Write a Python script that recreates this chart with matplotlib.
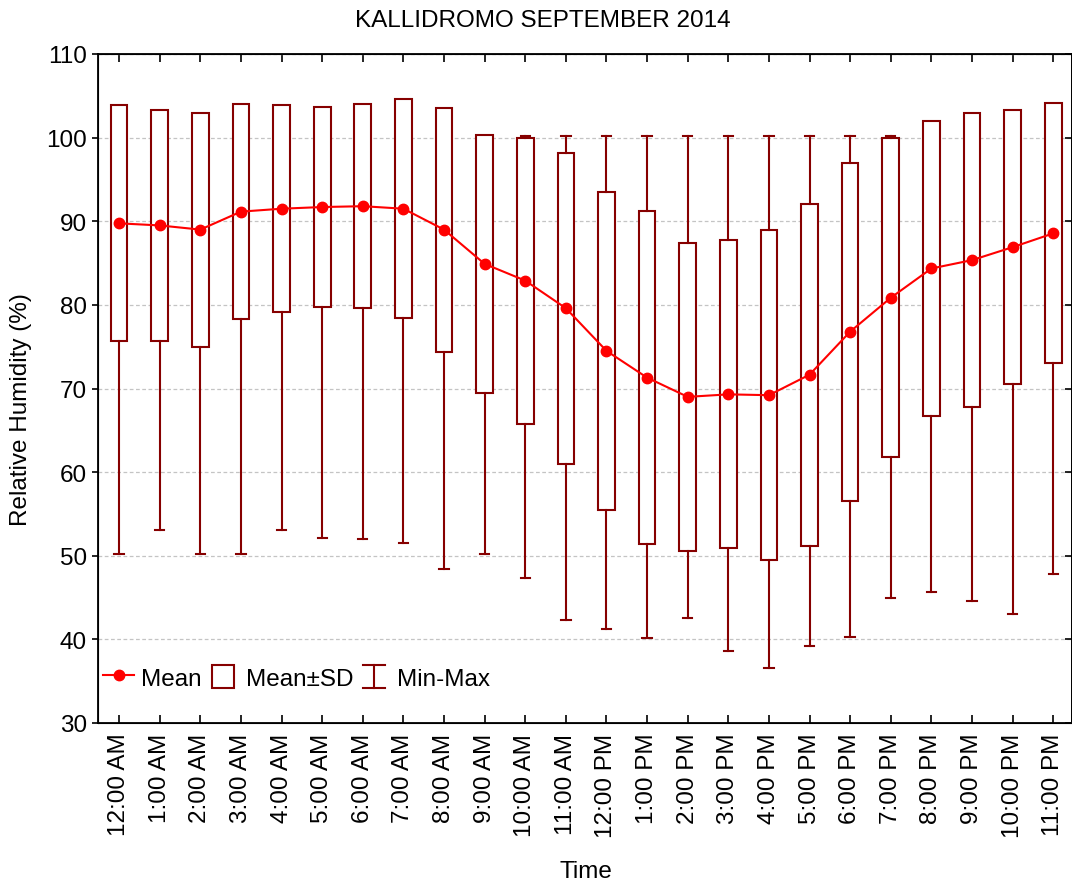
import matplotlib
matplotlib.use("Agg")
import matplotlib.pyplot as plt
from matplotlib.patches import Rectangle
from matplotlib.lines import Line2D
from matplotlib.legend_handler import HandlerBase, HandlerPatch

# ------------------------------
# Data
# ------------------------------
hours = ["12:00 AM", "1:00 AM", "2:00 AM", "3:00 AM", "4:00 AM", "5:00 AM",
         "6:00 AM", "7:00 AM", "8:00 AM", "9:00 AM", "10:00 AM", "11:00 AM",
         "12:00 PM", "1:00 PM", "2:00 PM", "3:00 PM", "4:00 PM", "5:00 PM",
         "6:00 PM", "7:00 PM", "8:00 PM", "9:00 PM", "10:00 PM", "11:00 PM"]

mean_rh = [89.75, 89.5, 89.0, 91.15, 91.5, 91.7, 91.8, 91.5, 89.0, 84.9, 82.9, 79.6,
           74.5, 71.3, 69.0, 69.3, 69.2, 71.65, 76.8, 80.85, 84.35, 85.35, 86.9, 88.55]

sd_rh = [14.1, 13.8, 14.0, 12.85, 12.4, 12.0, 12.2, 13.1, 14.6, 15.4, 17.1, 18.6,
         19.0, 19.9, 18.4, 18.4, 19.7, 20.45, 20.2, 19.05, 17.65, 17.55, 16.4, 15.55]

min_rh = [50.2, 53.1, 50.2, 50.2, 53.1, 52.1, 52.0, 51.5, 48.4, 50.2, 47.35, 42.3,
          41.25, 40.2, 42.6, 38.65, 36.6, 39.2, 40.3, 45.0, 45.7, 44.6, 43.0, 47.8]

max_rh = [100.2, 100.2, 100.2, 100.2, 100.2, 100.2, 100.2, 100.2, 100.2, 100.2, 100.2, 100.2,
          100.2, 100.2, 100.2, 100.2, 100.2, 100.2, 100.2, 100.2, 100.2, 100.2, 100.2, 100.2]

yticks = [30, 40, 50, 60, 70, 80, 90, 100, 110]

# ------------------------------
# Style
# ------------------------------
plt.rcParams['font.family'] = ['Liberation Sans', 'DejaVu Sans']
FS = 17.5
box_color = "#860000"
mean_color = "#ff0000"
box_w = 0.41
cap_w = 0.23

fig = plt.figure(figsize=(10.72, 8.87), dpi=100)
ax = fig.add_axes([98 / 1072, 1 - 724 / 887, (1071.5 - 98) / 1072, (724 - 55) / 887])

x = list(range(len(hours)))

# boxes and whiskers
for i in x:
    m, s, lo, hi = mean_rh[i], sd_rh[i], min_rh[i], max_rh[i]
    top, bot = m + s, m - s
    ax.add_patch(Rectangle((i - box_w / 2, bot), box_w, 2 * s, facecolor="white",
                           edgecolor=box_color, lw=1.5, zorder=3))
    if hi > top:
        ax.plot([i, i], [top, hi], color=box_color, lw=1.5, zorder=3)
        ax.plot([i - cap_w / 2, i + cap_w / 2], [hi, hi], color=box_color, lw=1.5, zorder=3)
    if lo < bot:
        ax.plot([i, i], [lo, bot], color=box_color, lw=1.5, zorder=3)
        ax.plot([i - cap_w / 2, i + cap_w / 2], [lo, lo], color=box_color, lw=1.5, zorder=3)

mean_line, = ax.plot(x, mean_rh, color=mean_color, lw=1.5, marker="o", ms=7.5, zorder=4)

ax.set_xlim(-0.52, 23.45)
ax.set_ylim(30, 110)
ax.set_xticks(x)
ax.set_xticklabels(hours, rotation=90, fontsize=FS)
ax.set_yticks(yticks)
ax.set_yticklabels([str(v) for v in yticks], fontsize=FS)

ax.tick_params(axis="x", direction="in", top=True, length=6, width=1.2, pad=7)
ax.tick_params(axis="y", direction="out", length=4, width=1.2, pad=4)
for sp in ax.spines.values():
    sp.set_linewidth(1.3)

ax2 = ax.twinx()
ax2.set_ylim(30, 110)
ax2.set_yticks(yticks)
ax2.tick_params(axis="y", direction="in", length=5, width=1.2, labelright=False)
ax2.spines["right"].set_linewidth(1.3)

ax.yaxis.grid(True, color="#c4c4c4", linestyle=(0, (3, 2)), lw=0.9)
ax.set_axisbelow(True)

# ------------------------------
# Legend
# ------------------------------
class MinMaxHandler(HandlerBase):
    def create_artists(self, legend, orig_handle, xdescent, ydescent,
                       width, height, fontsize, trans):
        cx = width / 2 - xdescent
        y0 = -ydescent
        y1 = height - ydescent
        hw = width * 0.35
        arts = [Line2D([cx, cx], [y0, y1]),
                Line2D([cx - hw, cx + hw], [y0, y0]),
                Line2D([cx - hw, cx + hw], [y1, y1])]
        for a in arts:
            a.set_color(box_color)
            a.set_linewidth(1.5)
            a.set_transform(trans)
        return arts


def box_patch(legend, orig_handle, xdescent, ydescent, width, height, fontsize):
    bw = width * 0.7
    return Rectangle((width / 2 - bw / 2 - xdescent, -ydescent), bw, height)


box_handle = Rectangle((0, 0), 1, 1, facecolor="white", edgecolor=box_color, lw=1.5)
mm_handle = Line2D([], [], color=box_color)

ax.legend([mean_line, box_handle, mm_handle], ["Mean", "Mean±SD", "Min-Max"],
          handler_map={box_handle: HandlerPatch(patch_func=box_patch),
                       mm_handle: MinMaxHandler()},
          loc="center left", bbox_to_anchor=(0.005, 0.068), ncol=3, frameon=False,
          fontsize=FS, handlelength=1.3, handleheight=1.03, handletextpad=0.28,
          columnspacing=0.22, borderpad=0, borderaxespad=0, numpoints=1)

# ------------------------------
# Titles
# ------------------------------
fig.text(543 / 1072, 1 - 21 / 887, "KALLIDROMO SEPTEMBER 2014", ha="center", va="center", fontsize=FS)
fig.text(586 / 1072, 1 - 872 / 887, "Time", ha="center", va="center", fontsize=FS)
fig.text(21 / 1072, 1 - 410 / 887, "Relative Humidity (%)", ha="center", va="center",
         rotation=90, fontsize=FS)

fig.savefig("out.png", dpi=100)
